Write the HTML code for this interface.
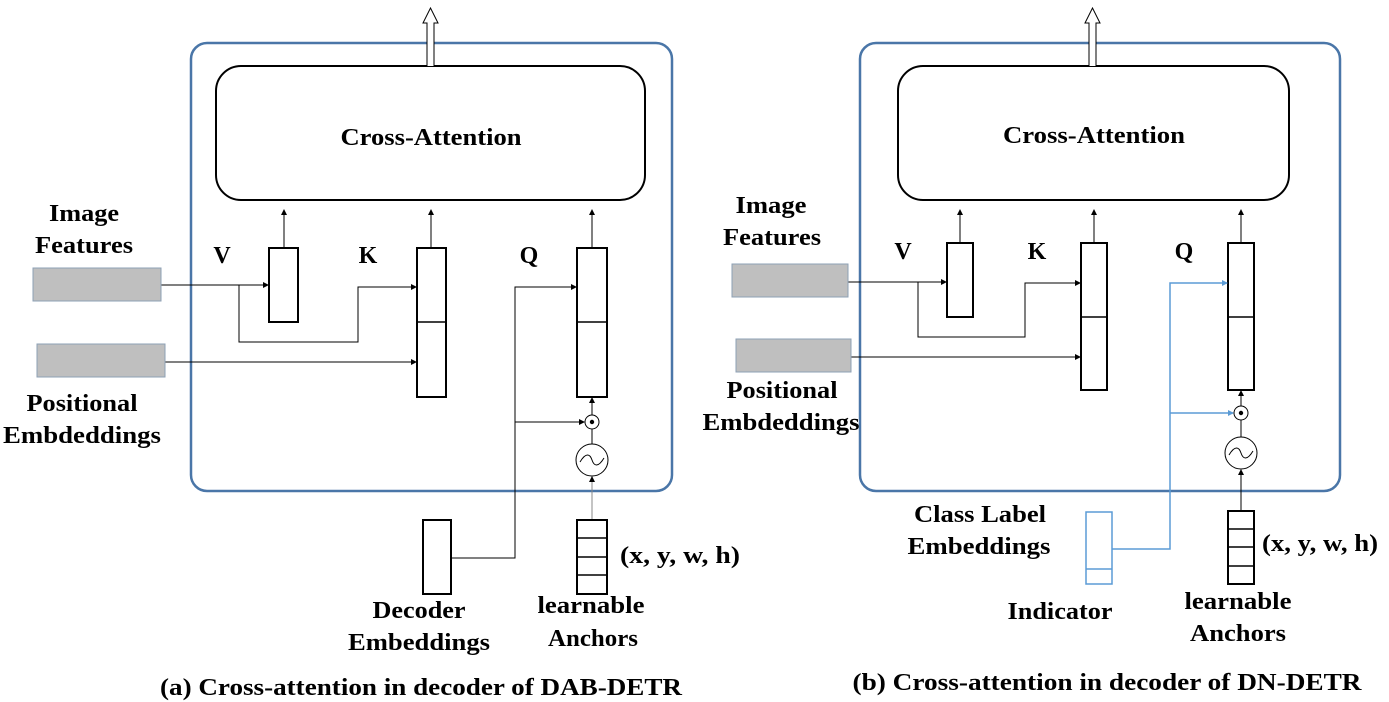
<!DOCTYPE html>
<html><head><style>
html,body{margin:0;padding:0;background:#fff;width:1389px;height:702px;overflow:hidden}
text{font-family:"Liberation Serif",serif;font-weight:bold;fill:#000}
</style></head><body>
<svg width="1389" height="702" viewBox="0 0 1389 702" xmlns="http://www.w3.org/2000/svg">
<defs>
<marker id="a" markerWidth="6" markerHeight="6" refX="5" refY="3" orient="auto" markerUnits="userSpaceOnUse"><path d="M0,0 L6,3 L0,6 z" fill="#000"/></marker>
<marker id="b" markerWidth="6" markerHeight="6" refX="5" refY="3" orient="auto" markerUnits="userSpaceOnUse"><path d="M0,0 L6,3 L0,6 z" fill="#5b9bd5"/></marker>
</defs>
<g fill="none" stroke="#000" stroke-width="1.5">
<rect x="191" y="43" width="481" height="448" rx="16" stroke="#4a76a8" stroke-width="2.5"/>
<rect x="216" y="66" width="429" height="134" rx="25" stroke-width="2"/>
<path d="M427,66 V23 H423 L430.5,8 L438,23 H434 V66" fill="#fff" stroke-width="1"/>
<rect x="269" y="248" width="29" height="74" stroke-width="2"/>
<rect x="417" y="248" width="29" height="149" stroke-width="2"/><line x1="417" y1="322" x2="446" y2="322"/>
<rect x="577" y="248" width="30" height="149" stroke-width="2"/><line x1="577" y1="322" x2="607" y2="322"/>
<line x1="284" y1="248" x2="284" y2="210" stroke-width="1" marker-end="url(#a)"/>
<line x1="431" y1="248" x2="431" y2="210" stroke-width="1" marker-end="url(#a)"/>
<line x1="592" y1="248" x2="592" y2="210" stroke-width="1" marker-end="url(#a)"/>
<line x1="161" y1="285" x2="268" y2="285" stroke-width="1" marker-end="url(#a)"/>
<path d="M239,285 V342 H358 V287 H416" stroke-width="1" marker-end="url(#a)"/>
<line x1="165" y1="362" x2="416" y2="362" stroke-width="1" marker-end="url(#a)"/>
<path d="M451,558 H515 V287 H576" stroke-width="1" marker-end="url(#a)"/>
<line x1="515" y1="422" x2="584" y2="422" stroke-width="1" marker-end="url(#a)"/>
<circle cx="592" cy="422" r="7" stroke-width="1"/>
<circle cx="592" cy="422" r="2.2" fill="#000" stroke="none"/>
<line x1="592" y1="415" x2="592" y2="398" stroke-width="1" marker-end="url(#a)"/>
<line x1="592" y1="429" x2="592" y2="444" stroke-width="1"/>
<circle cx="592" cy="460" r="16" stroke-width="1"/>
<path d="M580,462 C586,452 590,454 592,460 C594,466 598,468 604,458" stroke-width="1"/>
<line x1="592" y1="520" x2="592" y2="477" stroke="#888" stroke-width="1" marker-end="url(#a)"/>
<rect x="423" y="520" width="28" height="74" stroke-width="2"/>
<rect x="577" y="520" width="30" height="74" stroke-width="2"/>
<line x1="577" y1="538" x2="607" y2="538"/><line x1="577" y1="557" x2="607" y2="557"/><line x1="577" y1="575" x2="607" y2="575"/>
<rect x="860" y="43" width="480" height="448" rx="16" stroke="#4a76a8" stroke-width="2.5"/>
<rect x="898" y="66" width="391" height="134" rx="25" stroke-width="2"/>
<path d="M1089,66 V23 H1085 L1092.5,8 L1100,23 H1096 V66" fill="#fff" stroke-width="1"/>
<rect x="947" y="243" width="26" height="74" stroke-width="2"/>
<rect x="1081" y="243" width="26" height="147" stroke-width="2"/><line x1="1081" y1="317" x2="1107" y2="317"/>
<rect x="1228" y="243" width="26" height="147" stroke-width="2"/><line x1="1228" y1="317" x2="1254" y2="317"/>
<line x1="960" y1="243" x2="960" y2="210" stroke-width="1" marker-end="url(#a)"/>
<line x1="1094" y1="243" x2="1094" y2="210" stroke-width="1" marker-end="url(#a)"/>
<line x1="1241" y1="243" x2="1241" y2="210" stroke-width="1" marker-end="url(#a)"/>
<line x1="848" y1="282" x2="946" y2="282" stroke-width="1" marker-end="url(#a)"/>
<path d="M918,282 V337 H1025 V283 H1080" stroke-width="1" marker-end="url(#a)"/>
<line x1="851" y1="357" x2="1080" y2="357" stroke-width="1" marker-end="url(#a)"/>
<path d="M1112,549 H1170 V283 H1227" stroke="#5b9bd5" stroke-width="1.5" marker-end="url(#b)"/>
<line x1="1170" y1="413" x2="1233" y2="413" stroke="#5b9bd5" stroke-width="1.5" marker-end="url(#b)"/>
<circle cx="1241" cy="413" r="7" stroke-width="1"/>
<circle cx="1241" cy="413" r="2.2" fill="#000" stroke="none"/>
<line x1="1241" y1="406" x2="1241" y2="391" stroke-width="1" marker-end="url(#a)"/>
<line x1="1241" y1="420" x2="1241" y2="437" stroke-width="1"/>
<circle cx="1241" cy="453" r="16" stroke-width="1"/>
<path d="M1229,455 C1235,445 1239,447 1241,453 C1243,459 1247,461 1253,451" stroke-width="1"/>
<line x1="1241" y1="511" x2="1241" y2="470" stroke-width="1" marker-end="url(#a)"/>
<rect x="1086" y="512" width="26" height="72" stroke="#5b9bd5" stroke-width="1.5"/>
<line x1="1086" y1="569" x2="1112" y2="569" stroke="#5b9bd5"/>
<rect x="1228" y="511" width="26" height="73" stroke-width="2"/>
<line x1="1228" y1="529" x2="1254" y2="529"/><line x1="1228" y1="547" x2="1254" y2="547"/><line x1="1228" y1="566" x2="1254" y2="566"/>
</g>
<g fill="#bfbfbf" stroke="#8ea0b5" stroke-width="1">
<rect x="33" y="268" width="128" height="33"/>
<rect x="37" y="344" width="128" height="33"/>
<rect x="732" y="264" width="116" height="33"/>
<rect x="736" y="339" width="115" height="33"/>
</g>
<g font-size="24" text-anchor="middle" lengthAdjust="spacingAndGlyphs">
<text x="431" y="145" textLength="181" lengthAdjust="spacingAndGlyphs">Cross-Attention</text>
<text x="1094" y="143" textLength="182" lengthAdjust="spacingAndGlyphs">Cross-Attention</text>
<text x="84" y="221" textLength="70" lengthAdjust="spacingAndGlyphs">Image</text>
<text x="84" y="253" textLength="98" lengthAdjust="spacingAndGlyphs">Features</text>
<text x="222" y="263">V</text><text x="368" y="263">K</text><text x="529" y="263">Q</text>
<text x="82" y="411" textLength="111" lengthAdjust="spacingAndGlyphs">Positional</text>
<text x="82" y="443" textLength="158" lengthAdjust="spacingAndGlyphs">Embdeddings</text>
<text x="680" y="563" textLength="120" lengthAdjust="spacingAndGlyphs">(x, y, w, h)</text>
<text x="419" y="618" textLength="93" lengthAdjust="spacingAndGlyphs">Decoder</text>
<text x="419" y="650" textLength="142" lengthAdjust="spacingAndGlyphs">Embeddings</text>
<text x="591" y="613" textLength="107" lengthAdjust="spacingAndGlyphs">learnable</text>
<text x="593" y="646" textLength="90" lengthAdjust="spacingAndGlyphs">Anchors</text>
<text x="421" y="695" textLength="522" lengthAdjust="spacingAndGlyphs">(a) Cross-attention in decoder of  DAB-DETR</text>
<text x="771" y="213" textLength="71" lengthAdjust="spacingAndGlyphs">Image</text>
<text x="772" y="245" textLength="98" lengthAdjust="spacingAndGlyphs">Features</text>
<text x="903" y="259">V</text><text x="1037" y="259">K</text><text x="1184" y="259">Q</text>
<text x="782" y="398" textLength="111" lengthAdjust="spacingAndGlyphs">Positional</text>
<text x="781" y="430" textLength="157" lengthAdjust="spacingAndGlyphs">Embdeddings</text>
<text x="980" y="522" textLength="132" lengthAdjust="spacingAndGlyphs">Class Label</text>
<text x="979" y="554" textLength="143" lengthAdjust="spacingAndGlyphs">Embeddings</text>
<text x="1060" y="619" textLength="105" lengthAdjust="spacingAndGlyphs">Indicator</text>
<text x="1320" y="551" textLength="116" lengthAdjust="spacingAndGlyphs">(x, y, w, h)</text>
<text x="1238" y="609" textLength="107" lengthAdjust="spacingAndGlyphs">learnable</text>
<text x="1238" y="641" textLength="96" lengthAdjust="spacingAndGlyphs">Anchors</text>
<text x="1107" y="690" textLength="509" lengthAdjust="spacingAndGlyphs">(b) Cross-attention in decoder of  DN-DETR</text>
</g>
</svg>
</body></html>
